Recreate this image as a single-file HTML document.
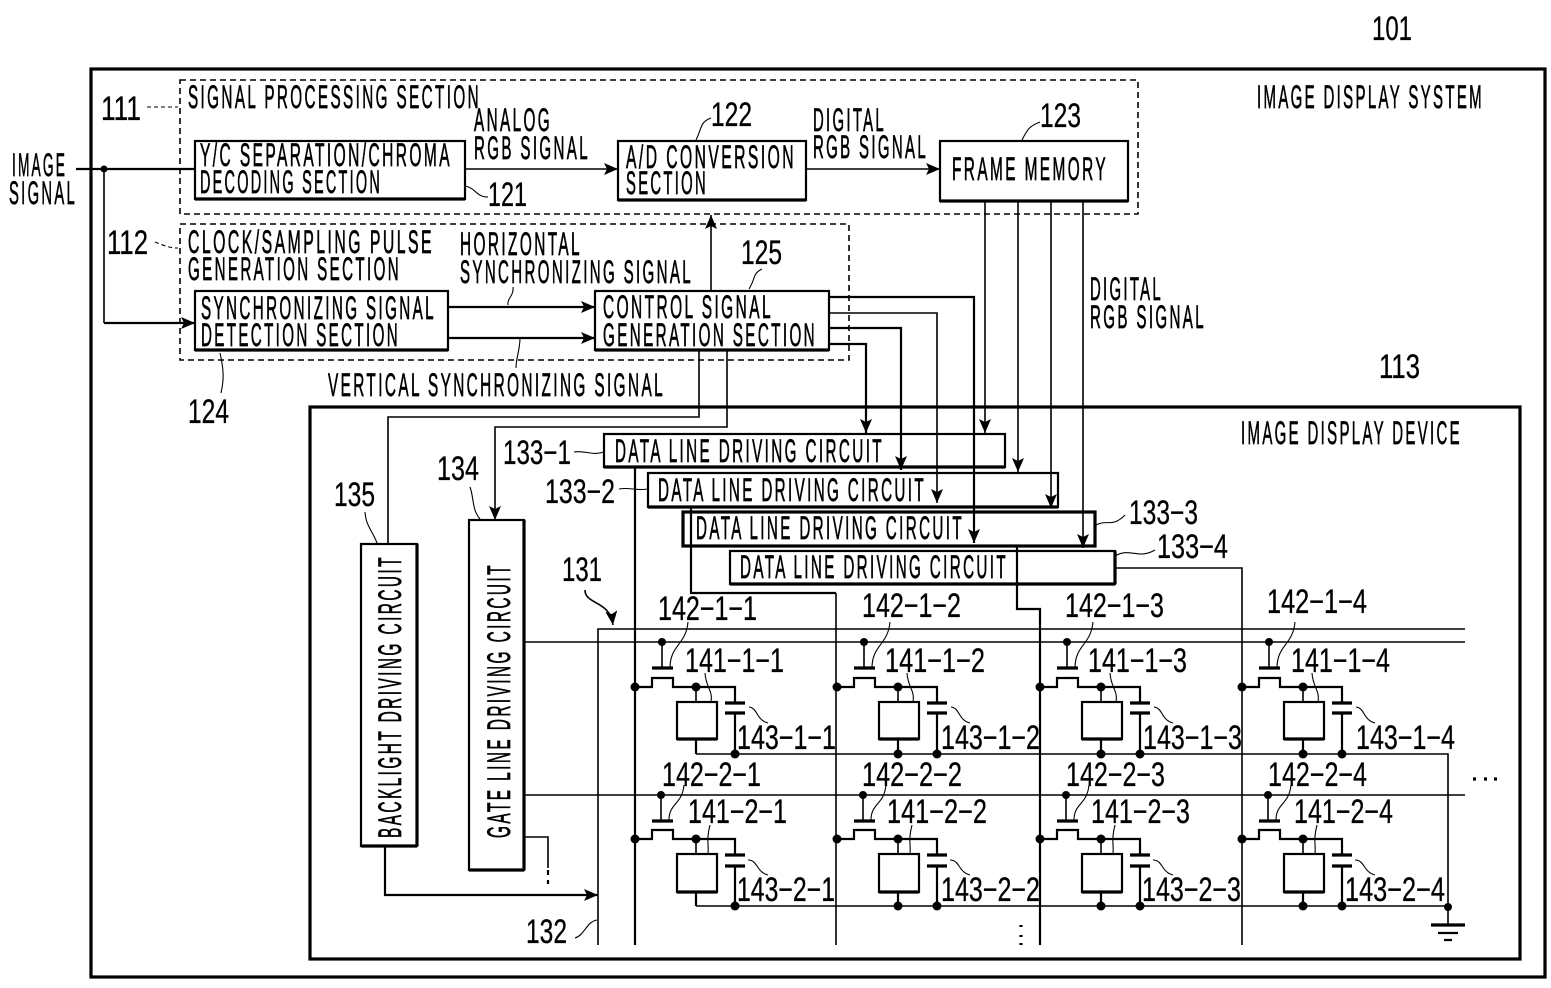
<!DOCTYPE html>
<html lang="en"><head><meta charset="utf-8"><title>Image display system</title>
<style>
html,body{margin:0;padding:0;background:#fff}
svg{display:block}
text{font-family:"Liberation Sans",sans-serif;font-size:32px;fill:#000;stroke:#000;stroke-width:.7px;letter-spacing:5px}
.n{font-size:34px;stroke-width:.3px;letter-spacing:0}
.l{fill:none;stroke:#000;stroke-width:1.6}
.m{fill:none;stroke:#000;stroke-width:2.2}
.k{fill:none;stroke:#000;stroke-width:3.2}
.w{fill:none;stroke:#000;stroke-width:1.1}
.d{fill:none;stroke:#000;stroke-width:1.6;stroke-dasharray:6 4}
</style></head><body>
<svg xmlns="http://www.w3.org/2000/svg" width="1551" height="988" viewBox="0 0 1551 988">
<defs>
<marker id="a" markerUnits="userSpaceOnUse" markerWidth="15" markerHeight="12" refX="14" refY="6" orient="auto"><path d="M0 0L14 6L0 12L3 6Z" fill="#000"/></marker>
<g id="c1">
<circle cx="662" cy="642" r="4"/><path class="l" d="M662 642V668"/><path class="k" d="M652 668H673"/>
<circle cx="635" cy="687" r="4.5"/><path class="m" d="M635 687H652V678H673V687H735V703"/>
<circle cx="696" cy="687" r="4.5"/><path class="l" d="M696 687V702"/>
<rect x="677" y="702" width="40" height="37" class="m"/><path class="k" d="M677 739H717"/><path class="m" d="M696 739V754"/>
<path class="k" d="M725 703H745M725 713H745"/><path class="m" d="M735 713V754"/><circle cx="735" cy="754" r="4.5"/>
<path class="w" d="M688 622C686 645 670 645 670 668M705 673C706 688 713 690 711 702M749 707C758 708 756 720 768 723"/>
</g>
<g id="c2">
<circle cx="661" cy="795" r="4"/><path class="l" d="M661 795V821"/><path class="k" d="M652 821H673"/>
<circle cx="635" cy="839" r="4.5"/><path class="m" d="M635 839H652V830H673V839H735V855"/>
<circle cx="696" cy="839" r="4.5"/><path class="l" d="M696 839V854"/>
<rect x="677" y="854" width="40" height="38" class="m"/><path class="k" d="M677 892H717"/><path class="m" d="M696 892V906"/>
<path class="k" d="M725 855H745M725 866H745"/><path class="m" d="M735 866V906"/><circle cx="735" cy="906" r="4.5"/>
<path class="w" d="M684 785C682 805 669 803 669 820M710 825C706 840 709 845 708 854M748 860C758 860 756 872 768 875"/>
</g>
</defs>
<rect width="1551" height="988" fill="#fff"/>

<!-- outer frames -->
<rect x="91" y="69" width="1454" height="908" class="k"/>
<rect x="310" y="407" width="1210" height="552" class="k"/>
<rect x="180" y="80" width="958" height="134" class="d"/>
<rect x="180" y="224" width="669" height="136" class="d"/>

<!-- block boxes -->
<g class="m">
<rect x="195" y="141" width="270" height="58" class="m"/><path class="k" d="M195 199H465"/>
<rect x="618" y="141" width="188" height="59" class="m"/><path class="k" d="M618 200H806"/>
<rect x="940" y="141" width="188" height="60" class="m"/><path class="k" d="M940 201H1128"/>
<rect x="195" y="291" width="253" height="59" class="m"/><path class="k" d="M195 350H448"/>
<rect x="595" y="291" width="234" height="59" class="m"/><path class="k" d="M595 350H829"/>
<rect x="604" y="434" width="401" height="33" class="m"/><path class="k" d="M604 467H1005"/>
<rect x="648" y="473" width="410" height="34" class="m"/><path class="k" d="M648 507H1058"/>
<rect x="683" y="512" width="412" height="34" class="k"/>
<rect x="730" y="551" width="385" height="33" class="m"/><path class="k" d="M730 584H1115M1115 551V584"/>
<rect x="469" y="520" width="55" height="350" class="m"/><path class="k" d="M524 520V870M469 870H524"/>
<rect x="361" y="544" width="56" height="302" class="m"/><path class="k" d="M417 544V846M361 846H417"/>
</g>

<!-- signal wires -->
<circle cx="104" cy="169" r="3.5"/>
<path class="m" d="M76 169H195"/><path class="l" d="M465 169H618" marker-end="url(#a)"/>
<path class="l" d="M806 169H940" marker-end="url(#a)"/>
<path class="l" d="M104 169V323"/><path class="m" d="M104 323H195" marker-end="url(#a)"/>
<path class="m" d="M448 307H595" marker-end="url(#a)"/><path class="m" d="M448 338H595" marker-end="url(#a)"/>
<path class="l" d="M711 291V215" marker-end="url(#a)"/>
<path class="l" d="M699 350V417H388V544"/>
<path class="l" d="M727 350V427H495V520" marker-end="url(#a)"/>
<path class="m" d="M829 297H974V543" marker-end="url(#a)"/>
<path class="l" d="M829 313H937V503" marker-end="url(#a)"/>
<path class="m" d="M829 328H901V470" marker-end="url(#a)"/>
<path class="m" d="M829 344H866V433" marker-end="url(#a)"/>
<path class="l" d="M985 201V433" marker-end="url(#a)"/>
<path class="l" d="M1018 201V472" marker-end="url(#a)"/>
<path class="l" d="M1051 201V508" marker-end="url(#a)"/>
<path class="l" d="M1083 201V548" marker-end="url(#a)"/>

<!-- data lines and matrix lines -->
<path class="m" d="M635 467V945"/>
<path class="m" d="M691 507V593H836"/><path class="l" d="M836 593V945"/>
<path class="m" d="M1017 546V609H1040V945"/>
<path class="l" d="M1115 568H1242V945"/>
<path class="l" d="M598 945V629H1465"/>
<path class="l" d="M524 642H1465"/>
<path class="l" d="M524 795H1465"/>
<path class="m" d="M385 846V895H598" marker-end="url(#a)"/>
<path class="l" d="M524 837H548V868"/><path class="m" d="M548 870V884" stroke-dasharray="5 5"/>
<path class="l" d="M696 754H1448V925"/><path class="l" d="M696 906H1448"/>
<circle cx="1448" cy="907" r="4"/>
<path class="k" d="M1431 925H1465"/><path class="m" d="M1438 933H1458M1444 940H1452"/>
<path d="M1021 925v2M1021 935v2M1021 943v2" class="k"/>
<path d="M1473 779h3M1484 779h3M1494 779h3" class="k"/>

<!-- matrix cells -->
<use href="#c1"/><use href="#c1" x="202"/><use href="#c1" x="405"/><use href="#c1" x="607"/>
<use href="#c2"/><use href="#c2" x="202"/><use href="#c2" x="405"/><use href="#c2" x="607"/>
<g><circle cx="898" cy="754" r="4.5"/><circle cx="1101" cy="754" r="4.5"/><circle cx="1303" cy="754" r="4.5"/>
<circle cx="898" cy="906" r="4.5"/><circle cx="1101" cy="906" r="4.5"/><circle cx="1303" cy="906" r="4.5"/></g>

<!-- leaders -->
<path class="w" d="M147 107H178" stroke-dasharray="4 3"/>
<path class="w" d="M155 242C165 246 170 248 178 248" stroke-dasharray="4 3"/>
<path class="w" d="M465 186C476 188 476 197 488 197"/>
<path class="w" d="M696 140C702 128 700 122 711 118"/>
<path class="w" d="M1022 140C1028 128 1030 126 1040 122"/>
<path class="w" d="M749 289C756 278 752 274 762 269"/>
<path class="w" d="M513 287C514 296 507 298 508 305"/>
<path class="w" d="M520 338C520 350 516 358 516 368"/>
<path class="w" d="M220 353C224 370 224 380 221 393"/>
<path class="w" d="M574 452C585 450 592 456 604 452"/>
<path class="w" d="M619 489C630 487 636 491 648 489"/>
<path class="w" d="M1096 525C1108 519 1112 528 1125 515"/>
<path class="w" d="M1115 556C1130 547 1138 560 1155 550"/>
<path class="w" d="M470 487C474 498 472 510 480 519"/>
<path class="w" d="M365 512C366 526 372 530 377 543"/>
<path class="w" d="M575 938C585 935 586 922 597 920"/>
<path class="l" d="M585 590C585 605 610 600 613 625" marker-end="url(#a)"/>

<!-- labels -->
<g>
<text class="n" x="1372" y="40" textLength="40" lengthAdjust="spacingAndGlyphs">101</text>
<text x="1257" y="108" textLength="227" lengthAdjust="spacingAndGlyphs">IMAGE DISPLAY SYSTEM</text>
<text x="188" y="108" textLength="293" lengthAdjust="spacingAndGlyphs">SIGNAL PROCESSING SECTION</text>
<text class="n" x="101" y="120" textLength="40" lengthAdjust="spacingAndGlyphs">111</text>
<text x="12" y="176" textLength="55" lengthAdjust="spacingAndGlyphs">IMAGE</text>
<text x="9" y="204" textLength="68" lengthAdjust="spacingAndGlyphs">SIGNAL</text>
<text x="474" y="131" textLength="78" lengthAdjust="spacingAndGlyphs">ANALOG</text>
<text x="474" y="159" textLength="116" lengthAdjust="spacingAndGlyphs">RGB SIGNAL</text>
<text x="200" y="166" textLength="252" lengthAdjust="spacingAndGlyphs">Y/C SEPARATION/CHROMA</text>
<text x="200" y="193" textLength="182" lengthAdjust="spacingAndGlyphs">DECODING SECTION</text>
<text class="n" x="488" y="206" textLength="39" lengthAdjust="spacingAndGlyphs">121</text>
<text class="n" x="711" y="126" textLength="41" lengthAdjust="spacingAndGlyphs">122</text>
<text x="626" y="168" textLength="170" lengthAdjust="spacingAndGlyphs">A/D CONVERSION</text>
<text x="626" y="194" textLength="82" lengthAdjust="spacingAndGlyphs">SECTION</text>
<text x="813" y="131" textLength="73" lengthAdjust="spacingAndGlyphs">DIGITAL</text>
<text x="813" y="158" textLength="115" lengthAdjust="spacingAndGlyphs">RGB SIGNAL</text>
<text class="n" x="1040" y="127" textLength="41" lengthAdjust="spacingAndGlyphs">123</text>
<text x="952" y="180" textLength="156" lengthAdjust="spacingAndGlyphs">FRAME MEMORY</text>
<text class="n" x="107" y="254" textLength="41" lengthAdjust="spacingAndGlyphs">112</text>
<text x="188" y="253" textLength="246" lengthAdjust="spacingAndGlyphs">CLOCK/SAMPLING PULSE</text>
<text x="188" y="280" textLength="213" lengthAdjust="spacingAndGlyphs">GENERATION SECTION</text>
<text x="460" y="255" textLength="122" lengthAdjust="spacingAndGlyphs">HORIZONTAL</text>
<text x="460" y="283" textLength="233" lengthAdjust="spacingAndGlyphs">SYNCHRONIZING SIGNAL</text>
<text class="n" x="741" y="264" textLength="41" lengthAdjust="spacingAndGlyphs">125</text>
<text x="201" y="319" textLength="235" lengthAdjust="spacingAndGlyphs">SYNCHRONIZING SIGNAL</text>
<text x="201" y="346" textLength="199" lengthAdjust="spacingAndGlyphs">DETECTION SECTION</text>
<text x="603" y="318" textLength="170" lengthAdjust="spacingAndGlyphs">CONTROL SIGNAL</text>
<text x="603" y="346" textLength="214" lengthAdjust="spacingAndGlyphs">GENERATION SECTION</text>
<text x="328" y="396" textLength="337" lengthAdjust="spacingAndGlyphs">VERTICAL SYNCHRONIZING SIGNAL</text>
<text class="n" x="188" y="423" textLength="41" lengthAdjust="spacingAndGlyphs">124</text>
<text class="n" x="1379" y="378" textLength="41" lengthAdjust="spacingAndGlyphs">113</text>
<text x="1241" y="444" textLength="221" lengthAdjust="spacingAndGlyphs">IMAGE DISPLAY DEVICE</text>
<text x="1090" y="300" textLength="73" lengthAdjust="spacingAndGlyphs">DIGITAL</text>
<text x="1090" y="328" textLength="116" lengthAdjust="spacingAndGlyphs">RGB SIGNAL</text>

<text class="n" x="503" y="464" textLength="68" lengthAdjust="spacingAndGlyphs">133−1</text>
<text class="n" x="545" y="503" textLength="70" lengthAdjust="spacingAndGlyphs">133−2</text>
<text class="n" x="1129" y="524" textLength="69" lengthAdjust="spacingAndGlyphs">133−3</text>
<text class="n" x="1157" y="558" textLength="71" lengthAdjust="spacingAndGlyphs">133−4</text>
<text x="615" y="462" textLength="269" lengthAdjust="spacingAndGlyphs">DATA LINE DRIVING CIRCUIT</text>
<text x="658" y="501" textLength="268" lengthAdjust="spacingAndGlyphs">DATA LINE DRIVING CIRCUIT</text>
<text x="696" y="539" textLength="268" lengthAdjust="spacingAndGlyphs">DATA LINE DRIVING CIRCUIT</text>
<text x="740" y="578" textLength="268" lengthAdjust="spacingAndGlyphs">DATA LINE DRIVING CIRCUIT</text>
<text class="n" x="437" y="480" textLength="42" lengthAdjust="spacingAndGlyphs">134</text>
<text class="n" x="334" y="506" textLength="41" lengthAdjust="spacingAndGlyphs">135</text>
<text class="n" x="562" y="581" textLength="40" lengthAdjust="spacingAndGlyphs">131</text>
<text class="n" x="526" y="943" textLength="41" lengthAdjust="spacingAndGlyphs">132</text>
<text transform="translate(510 838) rotate(-90)" textLength="275" lengthAdjust="spacingAndGlyphs">GATE LINE DRIVING CIRCUIT</text>
<text transform="translate(401 838) rotate(-90)" textLength="283" lengthAdjust="spacingAndGlyphs">BACKLIGHT DRIVING CIRCUIT</text>

<text class="n" x="658" y="620" textLength="99" lengthAdjust="spacingAndGlyphs">142−1−1</text>
<text class="n" x="862" y="617" textLength="99" lengthAdjust="spacingAndGlyphs">142−1−2</text>
<text class="n" x="1065" y="617" textLength="99" lengthAdjust="spacingAndGlyphs">142−1−3</text>
<text class="n" x="1267" y="613" textLength="100" lengthAdjust="spacingAndGlyphs">142−1−4</text>
<text class="n" x="685" y="672" textLength="99" lengthAdjust="spacingAndGlyphs">141−1−1</text>
<text class="n" x="885" y="672" textLength="100" lengthAdjust="spacingAndGlyphs">141−1−2</text>
<text class="n" x="1088" y="672" textLength="99" lengthAdjust="spacingAndGlyphs">141−1−3</text>
<text class="n" x="1291" y="672" textLength="99" lengthAdjust="spacingAndGlyphs">141−1−4</text>
<text class="n" x="737" y="749" textLength="99" lengthAdjust="spacingAndGlyphs">143−1−1</text>
<text class="n" x="941" y="749" textLength="99" lengthAdjust="spacingAndGlyphs">143−1−2</text>
<text class="n" x="1143" y="749" textLength="99" lengthAdjust="spacingAndGlyphs">143−1−3</text>
<text class="n" x="1356" y="749" textLength="99" lengthAdjust="spacingAndGlyphs">143−1−4</text>
<text class="n" x="662" y="786" textLength="99" lengthAdjust="spacingAndGlyphs">142−2−1</text>
<text class="n" x="862" y="786" textLength="100" lengthAdjust="spacingAndGlyphs">142−2−2</text>
<text class="n" x="1066" y="786" textLength="99" lengthAdjust="spacingAndGlyphs">142−2−3</text>
<text class="n" x="1268" y="786" textLength="99" lengthAdjust="spacingAndGlyphs">142−2−4</text>
<text class="n" x="688" y="823" textLength="99" lengthAdjust="spacingAndGlyphs">141−2−1</text>
<text class="n" x="887" y="823" textLength="100" lengthAdjust="spacingAndGlyphs">141−2−2</text>
<text class="n" x="1091" y="823" textLength="99" lengthAdjust="spacingAndGlyphs">141−2−3</text>
<text class="n" x="1294" y="823" textLength="99" lengthAdjust="spacingAndGlyphs">141−2−4</text>
<text class="n" x="737" y="901" textLength="98" lengthAdjust="spacingAndGlyphs">143−2−1</text>
<text class="n" x="941" y="901" textLength="99" lengthAdjust="spacingAndGlyphs">143−2−2</text>
<text class="n" x="1142" y="901" textLength="99" lengthAdjust="spacingAndGlyphs">143−2−3</text>
<text class="n" x="1345" y="901" textLength="100" lengthAdjust="spacingAndGlyphs">143−2−4</text>
</g>
</svg>
</body></html>
